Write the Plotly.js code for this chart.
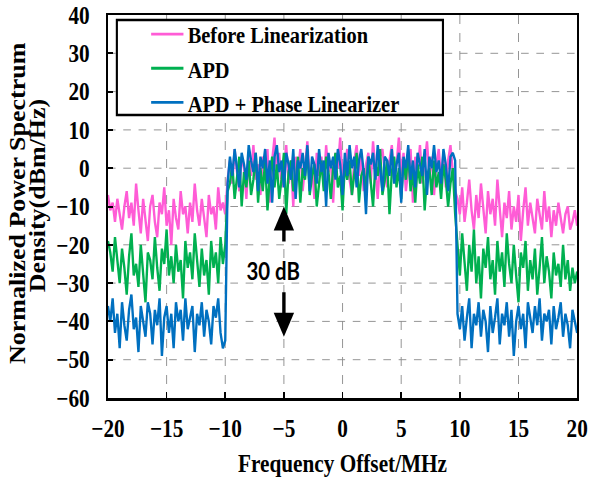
<!DOCTYPE html>
<html>
<head>
<meta charset="utf-8">
<script src="https://cdn.plot.ly/plotly-3.0.1.min.js"></script>
<style>
html,body{margin:0;padding:0;background:#fff;overflow:hidden;}
#wrap{width:590px;height:482px;overflow:hidden;position:relative;}
#chart{width:694px;height:482px;transform:scaleX(0.85);transform-origin:0 0;}
</style>
</head>
<body>
<div id="wrap"><div id="chart"></div></div>
<script>
// Frequency grid: start -20 MHz, step 0.2 MHz (201 samples), passed to Plotly as x0/dx
const freqStart = -20;
const freqStep = 0.2;

const seriesNames = ["Before Linearization", "APD", "APD + Phase Linearizer"];
const seriesColors = ["#FF5CD6", "#00B050", "#0070C0"];

const beforeLin = [
  -7, -11, -9, -14, -8, -12, -16, -10, -6, -13,
  -9, -15, -4, -11, -17, -8, -13, -19, -10, -7,
  -14, -18, -9, -12, -5, -15, -11, -20, -8, -13,
  -16, -6, -12, -10, -17, -9, -14, -4, -11, -15,
  -8, -13, -18, -7, -12, -10, -16, -5, -11, -9,
  -12,
  -3,
  2, -4, 5, -1, -6, 3, 0, -8, 4, -2,
  6, -3, 1, -7, 3, -1, 5, -9, 2, 8,
  -2, 4, -5, 0, 6, -4, 2, -10, 3, -1,
  5, -6, 1, 7, -3, 0, -8, 4, -2, 3,
  -5, 6, -1, 2, -9, 4, 0, 8, -4, 1,
  5, -3, -7, 2, 6, -2, 3, -6, 1, 4,
  -4, 7, 0, -8, 3, 5, -1, -5, 2, 6,
  -3, 1, 8, -2, 4, -6, 0, 5, -9, 3,
  -1, 6, -4, 2, 7, -2, 3, -7, 1, 5,
  -3, 4, -5, 2, 6, -1, -6,
  -8,
  -12, -5, -14, -9, -3, -11, -16, -7, -13, -4,
  -10, -17, -6, -12, -8, -15, -3, -11, -18, -9,
  -13, -6, -16, -10, -14, -7, -19, -11, -5, -15,
  -9, -13, -17, -8, -12, -16, -6, -14, -10, -18,
  -11, -15, -9, -13, -17, -12, -10, -16, -14, -11,
  -15
];

const apd = [
  -19, -22, -27, -18, -24, -30, -21, -26, -33, -23,
  -17, -28, -25, -31, -20, -27, -35, -22, -24, -29,
  -18, -26, -32, -21, -25, -16, -28, -23, -30, -20,
  -27, -24, -34, -19, -26, -22, -29, -17, -25, -31,
  -21, -28, -24, -33, -19, -26, -22, -30, -18, -25,
  -20,
  -6,
  -4, 1, -8, -2, 3, -10, -1, -5, 2, -7,
  -3, 4, -9, 0, -6, 2, -11, -2, 3, -5,
  1, -8, -3, 4, -12, -1, 2, -6, -4, 3,
  -9, 0, -3, 5, -7, -2, 1, -10, -4, 2,
  -6, 3, -1, -8, 0, 4, -5, -2, -11, 1,
  -3, 2, -7, -1, 4, -9, -2, 0, -6, 3,
  -4, -10, 1, -2, 5, -7, -3, 2, -12, -1,
  3, -5, 0, -8, 2, -3, 4, -6, -1, -9,
  1, -4, 3, -11, -2, 0, -7, 2, -5, -1,
  -8, 1, -3, -10, -4, 0, -12,
  -20,
  -28, -17, -25, -32, -20, -27, -16, -30, -23, -34,
  -21, -26, -18, -29, -24, -33, -19, -27, -22, -31,
  -17, -25, -30, -20, -28, -35, -22, -26, -19, -32,
  -24, -29, -21, -33, -26, -18, -30, -23, -27, -34,
  -22, -28, -25, -31, -20, -29, -24, -32, -26, -30,
  -27
];

const apdPhase = [
  -36, -40, -34, -43, -38, -47, -35, -41, -45, -37,
  -33, -42, -39, -48, -36, -40, -44, -35, -38, -46,
  -37, -41, -34, -49, -39, -36, -43, -38, -47, -35,
  -40, -37, -45, -34, -42, -39, -36, -48, -38, -41,
  -35, -44, -37, -40, -46, -36, -39, -34, -43, -47,
  -45,
  -4,
  3, -2, 5, 0, -5, 4, 1, -3, 6, 2,
  -1, 4, -6, 3, 0, 5, -4, 2, -9, 3,
  6, -1, 2, -5, 4, 1, -3, 5, -8, 2,
  0, 4, -2, 6, -6, 3, 1, -4, 5, -1,
  2, -10, 4, 0, 3, -3, 5, 1, -7, 4,
  -2, 6, 0, 3, -5, 2, 5, -1, -12, 3,
  1, 4, -3, 6, 0, -6, 3, 2, -2, 5,
  -4, 1, 4, -9, 3, 0, 6, -3, 2, -5,
  4, 1, -2, 5, -7, 3, 0, 6, -1, 2,
  -4, 5, 1, -6, 3, 4, 2,
  -38,
  -42, -36, -45, -39, -34, -47, -38, -41, -35, -44,
  -37, -40, -48, -36, -43, -39, -34, -46, -38, -41,
  -35, -44, -37, -49, -40, -36, -42, -38, -47, -35,
  -39, -43, -36, -41, -34, -45, -38, -40, -37, -46,
  -36, -42, -39, -35, -44, -38, -41, -47, -37, -40,
  -43
];

const xTickVals = [-20, -15, -10, -5, 0, 5, 10, 15, 20];
const yTickVals = [-60, -50, -40, -30, -20, -10, 0, 10, 20, 30, 40];
const yTitleLines = ["Normalized Power Spectrum", "Density(dBm/Hz)"];
const xTitle = "Frequency Offset/MHz";
const gapLabel = "30 dB";

const allSeries = [beforeLin, apd, apdPhase];
const traces = allSeries.map((vals, i) => ({
  type: "scatter",
  mode: "lines",
  name: seriesNames[i],
  x0: freqStart,
  dx: freqStep,
  y: vals,
  line: {color: seriesColors[i], width: 2.8},
  hoverinfo: "skip"
}));

const serif = "Liberation Serif, Times New Roman, serif";
const mkFont = (s) => ({family: serif, size: s, color: "#000", weight: "bold"});
const axisCommon = {
  showline: true, linecolor: "#000", linewidth: 2.5, mirror: true,
  ticks: "inside", ticklen: 6, tickwidth: 2, tickcolor: "#000",
  showgrid: true, gridcolor: "#8c8c8c", gridwidth: 1, griddash: "dash",
  zeroline: false,
  tickfont: mkFont(25)
};

const layout = {
  width: 694, height: 482,
  margin: {l: 127, r: 15, t: 15, b: 84},
  paper_bgcolor: "#fff", plot_bgcolor: "#fff",
  showlegend: true,
  xaxis: Object.assign({}, axisCommon, {
    range: [-20, 20], tickvals: xTickVals, ticklabelstandoff: 7,
    title: {text: xTitle, font: mkFont(25), standoff: 13}
  }),
  yaxis: Object.assign({}, axisCommon, {
    range: [-60, 40], tickvals: yTickVals, ticklabelstandoff: 14
  }),
  legend: {
    x: 0.083, y: 1.008, xanchor: "left", yanchor: "top",
    bgcolor: "rgba(0,0,0,0)", borderwidth: 0,
    font: mkFont(24),
    itemwidth: 38, tracegroupgap: 0
  },
  shapes: [
    {type: "rect", xref: "paper", yref: "paper", x0: 0.019, x1: 0.714, y0: 0.739, y1: 0.987,
     line: {color: "#000", width: 2.5}, fillcolor: "#fff", layer: "above"}
  ],
  annotations: [
    {xref: "paper", yref: "paper", x: -0.192, y: 0.509, xanchor: "center", yanchor: "middle",
     text: yTitleLines[0], textangle: -90, showarrow: false, font: mkFont(26)},
    {xref: "paper", yref: "paper", x: -0.150, y: 0.530, xanchor: "center", yanchor: "middle",
     text: yTitleLines[1], textangle: -90, showarrow: false, font: mkFont(26)},
    {x: -5.9, y: -26.6, xref: "x", yref: "y", text: gapLabel, showarrow: false,
     font: {family: "Lato, Open Sans, sans-serif", size: 24, color: "#000", weight: "bold"}},
    {x: -5, y: -10, xref: "x", yref: "y", ax: -5, ay: -19.5, axref: "x", ayref: "y",
     text: "", showarrow: true, arrowhead: 2, arrowsize: 1.2, arrowwidth: 4, arrowcolor: "#000"},
    {x: -5, y: -44, xref: "x", yref: "y", ax: -5, ay: -32, axref: "x", ayref: "y",
     text: "", showarrow: true, arrowhead: 2, arrowsize: 1.2, arrowwidth: 4, arrowcolor: "#000"}
  ]
};

Plotly.newPlot("chart", traces, layout, {staticPlot: true, displayModeBar: false});
</script>
</body>
</html>
